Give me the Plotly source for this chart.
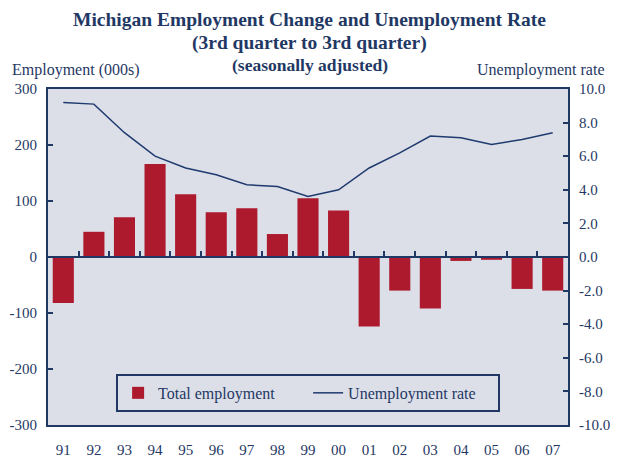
import plotly.graph_objects as go

years = ["91", "92", "93", "94", "95", "96", "97", "98", "99", "00",
         "01", "02", "03", "04", "05", "06", "07"]
employment_change = [-82, 45, 71, 166, 112, 80, 87, 41, 105, 83,
                     -124, -60, -92, -7, -5, -57, -60]
unemployment_rate = [9.2, 9.1, 7.4, 6.0, 5.3, 4.9, 4.3, 4.2, 3.6, 4.0,
                     5.3, 6.2, 7.2, 7.1, 6.7, 7.0, 7.4]

left_tick_vals = [-300, -200, -100, 0, 100, 200, 300]
left_tick_text = ["-300", "-200", "-100", "0", "100", "200", "300"]
right_tick_vals = [-10, -8, -6, -4, -2, 0, 2, 4, 6, 8, 10]
right_tick_text = ["-10.0", "-8.0", "-6.0", "-4.0", "-2.0", "0.0",
                   "2.0", "4.0", "6.0", "8.0", "10.0"]

title_lines = ["Michigan Employment Change and Unemployment Rate",
               "(3rd quarter to 3rd quarter)",
               "(seasonally adjusted)"]
left_axis_title = "Employment (000s)"
right_axis_title = "Unemployment rate"

NAVY = "#1f3864"
LINE = "#1f3a6e"
RED = "#ad1a2e"
BG = "#dcdfe8"
FONT = "Liberation Serif"

fig = go.Figure()
fig.add_trace(go.Bar(
    x=years, y=employment_change, name="Total employment",
    marker=dict(color=RED, line=dict(width=0)),
    xaxis="x", yaxis="y",
))
fig.add_trace(go.Scatter(
    x=years, y=unemployment_rate, name="Unemployment rate",
    mode="lines", line=dict(color=LINE, width=1.5),
    xaxis="x2", yaxis="y2",
))

# page has an 8px body margin, so the figure is 8px smaller on each axis
fig.update_layout(
    width=610, height=451,
    margin=dict(l=40, r=50, t=81, b=34, autoexpand=False),
    paper_bgcolor="white",
    plot_bgcolor=BG,
    font=dict(family=FONT, color=NAVY, size=15),
    bargap=0.31,
    showlegend=True,
    legend=dict(
        orientation="h",
        x=0.131, y=0.152, xanchor="left", yanchor="top",
        bgcolor="rgba(0,0,0,0)",
        bordercolor=NAVY, borderwidth=2,
        font=dict(family=FONT, size=16, color=NAVY),
        entrywidth=145,
        traceorder="normal",
    ),
    xaxis=dict(
        type="category", range=[-0.5, 16.5], automargin=False,
        showline=True, linecolor=NAVY, linewidth=2, mirror=True,
        ticks="", showgrid=False, zeroline=False,
        ticklabelstandoff=10,
        tickfont=dict(family=FONT, size=15, color=NAVY),
    ),
    xaxis2=dict(
        type="category", range=[-0.5, 16.5], automargin=False,
        overlaying="x", anchor="free", position=0.5, side="bottom",
        showline=True, linecolor=NAVY, linewidth=2,
        ticks="inside", ticklen=5, tickwidth=2, tickcolor=NAVY,
        tickson="boundaries",
        showticklabels=False, showgrid=False, zeroline=False,
    ),
    yaxis=dict(
        range=[-300, 300], tickvals=left_tick_vals, ticktext=left_tick_text,
        automargin=False,
        showline=True, linecolor=NAVY, linewidth=2,
        ticks="inside", ticklen=5, tickwidth=2, tickcolor=NAVY,
        showgrid=False, zeroline=False,
        ticklabelstandoff=6,
        tickfont=dict(family=FONT, size=15, color=NAVY),
    ),
    yaxis2=dict(
        range=[-10, 10], tickvals=right_tick_vals, ticktext=right_tick_text,
        automargin=False, ticklabeloverflow="allow",
        overlaying="y", side="right", anchor="x",
        showline=True, linecolor=NAVY, linewidth=2,
        ticks="inside", ticklen=5, tickwidth=2, tickcolor=NAVY,
        showgrid=False, zeroline=False,
        ticklabelstandoff=6,
        tickfont=dict(family=FONT, size=15, color=NAVY),
    ),
)

title_sizes = [19.5, 19.5, 17.5]
title_ys = [1.2068, 1.1369, 1.0714]
for txt, sz, yy in zip(title_lines, title_sizes, title_ys):
    fig.add_annotation(
        text="<b>%s</b>" % txt, xref="paper", yref="paper",
        x=0.5038, y=yy, xanchor="center", yanchor="middle",
        showarrow=False, font=dict(family=FONT, size=sz, color=NAVY),
    )

fig.add_annotation(
    text=left_axis_title, xref="paper", yref="paper",
    x=-0.0731, y=1.0565, xanchor="left", yanchor="middle",
    showarrow=False, font=dict(family=FONT, size=16, color=NAVY),
)
fig.add_annotation(
    text=right_axis_title, xref="paper", yref="paper",
    x=1.075, y=1.0565, xanchor="right", yanchor="middle",
    showarrow=False, font=dict(family=FONT, size=16, color=NAVY),
)

fig.write_html("out.html")
